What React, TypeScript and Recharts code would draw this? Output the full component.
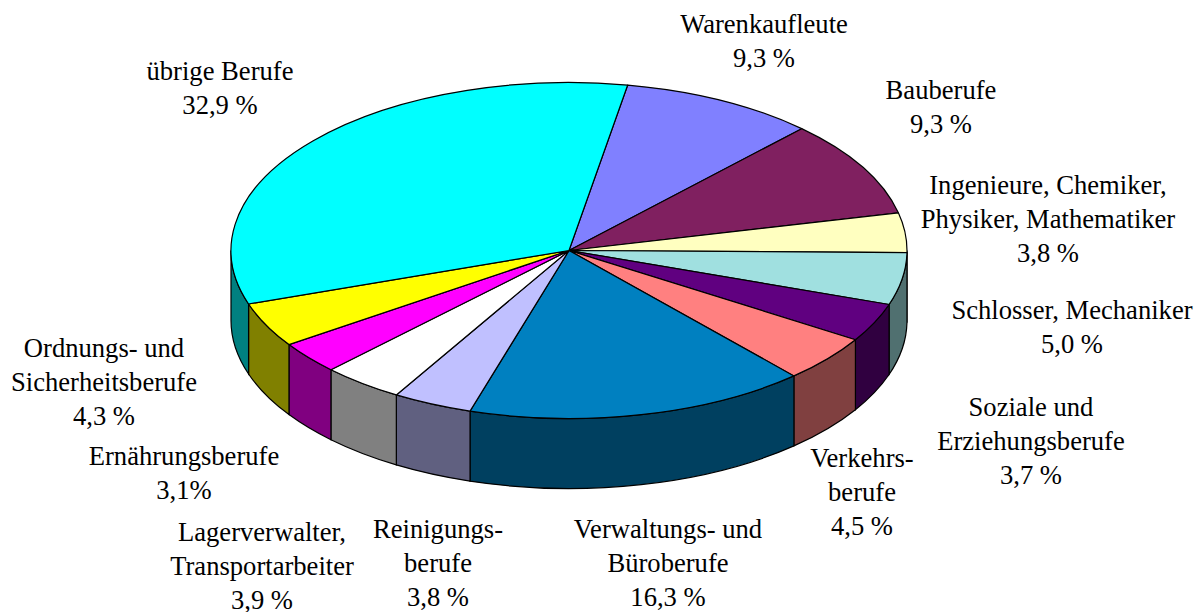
import { Cell, Pie, PieChart } from "recharts";

const professions = [
  "Warenkaufleute",
  "Bauberufe",
  "Ingenieure",
  "Schlosser",
  "Soziale",
  "Verkehr",
  "Verwaltung",
  "Reinigung",
  "Lager",
  "Ernährung",
  "Ordnung",
  "Übrige",
];
const shares = [9.3, 9.3, 3.8, 5.0, 3.7, 4.5, 16.3, 3.8, 3.9, 3.1, 4.3, 32.9];

const topColors = [
  "#8080FF", "#802060", "#FFFFC0", "#A0E0E0", "#600080", "#FF8080",
  "#0080C0", "#C0C0FF", "#FFFFFF", "#FF00FF", "#FFFF00", "#00FFFF",
];
const sideColors = [
  "#404080", "#401030", "#808060", "#507070", "#300040", "#804040",
  "#004060", "#606080", "#808080", "#800080", "#808000", "#008080",
];

const labelLines = [
  ["Warenkaufleute", "9,3 %"],
  ["Bauberufe", "9,3 %"],
  ["Ingenieure, Chemiker,", "Physiker, Mathematiker", "3,8 %"],
  ["Schlosser, Mechaniker", "5,0 %"],
  ["Soziale und", "Erziehungsberufe", "3,7 %"],
  ["Verkehrs-", "berufe", "4,5 %"],
  ["Verwaltungs- und", "Büroberufe", "16,3 %"],
  ["Reinigungs-", "berufe", "3,8 %"],
  ["Lagerverwalter,", "Transportarbeiter", "3,9 %"],
  ["Ernährungsberufe", "3,1%"],
  ["Ordnungs- und", "Sicherheitsberufe", "4,3 %"],
  ["übrige Berufe", "32,9 %"],
];
// centre x and first baseline of each label
const labelX = [764, 941, 1048, 1072, 1031, 862, 668, 438, 262, 184, 104, 220];
const labelY = [33, 99, 194, 319, 416, 467, 538, 538, 541, 465, 357, 80];

const chartData = professions.map((name, i) => ({ name, value: shares[i] }));

const TILT = 168 / 338;
const DEPTH = 70;

function ExtrudedSlice(props: any) {
  const { cx, cy, outerRadius: r, startAngle, endAngle, fill, index } = props;
  const ry = r * TILT;
  const px = (a: number) => cx + r * Math.cos((a * Math.PI) / 180);
  const py = (a: number) => cy - ry * Math.sin((a * Math.PI) / 180);
  const large = Math.abs(startAngle - endAngle) > 180 ? 1 : 0;

  // only the part of the rim facing the viewer gets a wall
  const hi = Math.min(startAngle, 0);
  const lo = Math.max(endAngle, -180);
  const wall =
    hi > lo
      ? `M${px(hi)},${py(hi)} A${r},${ry} 0 0 1 ${px(lo)},${py(lo)} ` +
        `L${px(lo)},${py(lo) + DEPTH} A${r},${ry} 0 0 0 ${px(hi)},${py(hi) + DEPTH} Z`
      : null;

  return (
    <g>
      {wall && <path d={wall} fill={sideColors[index ?? professions.indexOf(props.name)]} stroke="#000" strokeWidth={1.2} />}
      <path
        d={`M${cx},${cy} L${px(startAngle)},${py(startAngle)} A${r},${ry} 0 ${large} 1 ${px(endAngle)},${py(endAngle)} Z`}
        fill={fill}
        stroke="#000"
        strokeWidth={1.2}
        strokeLinejoin="round"
      />
    </g>
  );
}

function SliceLabel({ index }: any) {
  return (
    <text
      textAnchor="middle"
      fontFamily="'Liberation Serif', serif"
      fontSize={26.6}
      fill="#000"
    >
      {labelLines[index].map((line, i) => (
        <tspan key={line} x={labelX[index]} y={labelY[index] + i * 34.2}>
          {line}
        </tspan>
      ))}
    </text>
  );
}

export default function App() {
  return (
    <div style={{ position: "absolute", left: 0, top: 0 }}>
      <PieChart width={1198} height={612} margin={{ top: 0, right: 0, bottom: 0, left: 0 }}>
        <Pie
          data={chartData}
          dataKey="value"
          nameKey="name"
          cx={569}
          cy={250.5}
          innerRadius={0}
          outerRadius={338}
          startAngle={80}
          endAngle={-280}
          paddingAngle={0}
          shape={ExtrudedSlice}
          label={SliceLabel}
          labelLine={false}
          isAnimationActive={false}
        >
          {professions.map((name, i) => (
            <Cell key={name} fill={topColors[i]} />
          ))}
        </Pie>
      </PieChart>
    </div>
  );
}
